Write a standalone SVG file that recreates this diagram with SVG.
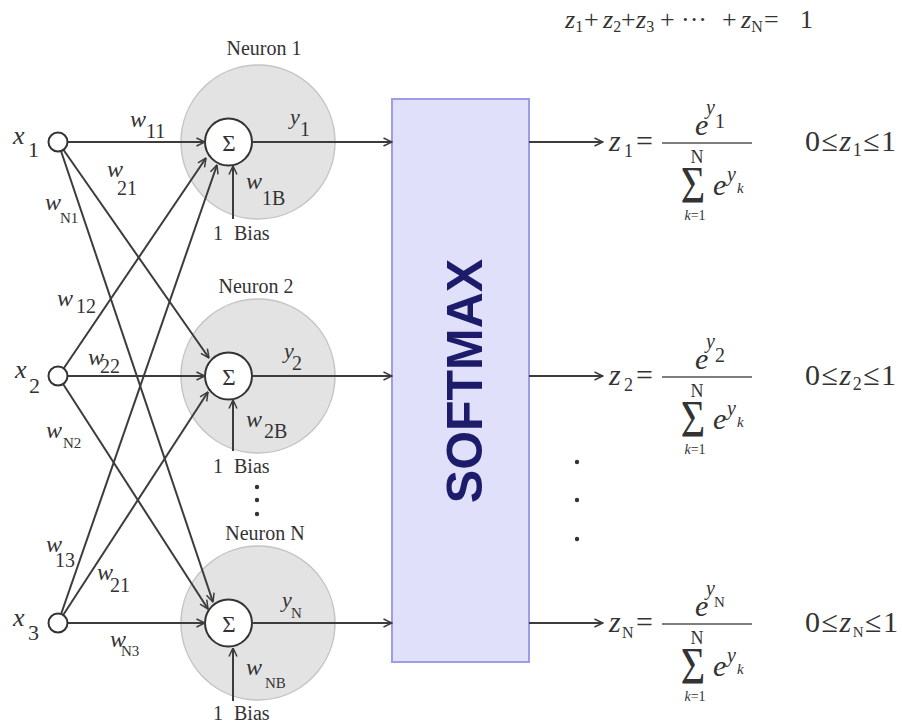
<svg xmlns="http://www.w3.org/2000/svg" width="902" height="726" viewBox="0 0 902 726">
<defs>
<style>
text{font-family:"Liberation Serif","DejaVu Serif",serif;fill:#333}
.it{font-style:italic}
.lbl{font-size:20px}
.w{font-size:24px;font-style:italic}
.s{font-size:20px}
.ss{font-size:15px}
.big{font-size:30px}
.con{stroke:#3c3c3c;stroke-width:2;fill:none;marker-end:url(#arr)}
.hal{fill:#e3e3e3;stroke:#c4c4c4;stroke-width:1.5}
.sig{fill:#fff;stroke:#333;stroke-width:2}
.frac{stroke:#555;stroke-width:1.6}
.dot{fill:#333}
</style>
<marker id="arr" viewBox="0 0 10 10" refX="9.5" refY="5" markerWidth="10" markerHeight="10" markerUnits="userSpaceOnUse" orient="auto">
<path d="M1,1 L9.5,5 L1,9" fill="none" stroke="#3c3c3c" stroke-width="1.5"/>
</marker>
</defs>
<rect width="902" height="726" fill="#fff"/>

<!-- neurons -->
<g id="neuron1">
<circle class="hal" cx="258" cy="142" r="77"/>
<circle class="sig" cx="228.5" cy="142" r="23.5"/>
<text x="229" y="151" font-size="23" text-anchor="middle">Σ</text>
<text class="lbl" x="264" y="55" text-anchor="middle">Neuron 1</text>
</g>
<g id="neuron2">
<circle class="hal" cx="258" cy="376" r="77"/>
<circle class="sig" cx="228.5" cy="376" r="23.5"/>
<text x="229" y="385" font-size="23" text-anchor="middle">Σ</text>
<text class="lbl" x="256" y="293" text-anchor="middle">Neuron 2</text>
</g>
<g id="neuronN">
<circle class="hal" cx="258" cy="623" r="77"/>
<circle class="sig" cx="228.5" cy="623" r="23.5"/>
<text x="229" y="632" font-size="23" text-anchor="middle">Σ</text>
<text class="lbl" x="265" y="540" text-anchor="middle">Neuron N</text>
</g>

<g id="softmax">
<rect x="392" y="99" width="137" height="563" fill="#e0e0fb" stroke="#9c9ce8" stroke-width="2"/>
<text transform="translate(482,381) rotate(-90)" text-anchor="middle" style="font-family:'Liberation Sans','DejaVu Sans',sans-serif;font-weight:bold;font-size:50px;fill:#1c1c6b">SOFTMAX</text>
</g>

<!-- connectors -->
<g id="connectors">
<line class="con" x1="68" y1="142" x2="205" y2="142"/>
<line class="con" x1="63.4" y1="149.8" x2="209" y2="358"/>
<line class="con" x1="61" y1="151" x2="213" y2="602"/>
<line class="con" x1="63.3" y1="369" x2="206" y2="158"/>
<line class="con" x1="68" y1="376" x2="205" y2="376"/>
<line class="con" x1="63.1" y1="384" x2="208" y2="609"/>
<line class="con" x1="61.1" y1="614" x2="217" y2="165"/>
<line class="con" x1="63.2" y1="615" x2="208" y2="392"/>
<line class="con" x1="68" y1="623" x2="205" y2="623"/>
<line class="con" x1="233" y1="219" x2="233" y2="166"/>
<line class="con" x1="233" y1="451" x2="233" y2="400"/>
<line class="con" x1="233" y1="701" x2="233" y2="648"/>
<line class="con" x1="252" y1="142" x2="392" y2="142"/>
<line class="con" x1="252" y1="376" x2="392" y2="376"/>
<line class="con" x1="252" y1="623" x2="392" y2="623"/>
<line class="con" x1="529" y1="142" x2="603" y2="142"/>
<line class="con" x1="529" y1="376" x2="603" y2="376"/>
<line class="con" x1="529" y1="623" x2="603" y2="623"/>
</g>

<!-- inputs -->
<g id="x1">
<circle class="sig" cx="58" cy="142" r="9.5"/>
<text x="13" y="144" font-size="26" class="it">x</text><text x="28" y="157" font-size="22">1</text>
</g>
<g id="x2">
<circle class="sig" cx="58" cy="376" r="9.5"/>
<text x="15" y="378" font-size="26" class="it">x</text><text x="29" y="393" font-size="22">2</text>
</g>
<g id="x3">
<circle class="sig" cx="58" cy="623" r="9.5"/>
<text x="13" y="626" font-size="26" class="it">x</text><text x="28" y="640" font-size="22">3</text>
</g>

<!-- weight labels -->
<g id="weights">
<text class="w" x="130" y="127">w</text><text class="s" x="146" y="138">11</text>
<text class="w" x="107" y="177">w</text><text class="s" x="117" y="195">21</text>
<text class="w" x="45" y="210">w</text><text class="ss" x="60" y="223">N1</text>
<text class="w" x="246" y="189">w</text><text class="s" x="262" y="205">1B</text>
<text class="lbl" x="213" y="240">1</text><text class="lbl" x="234" y="240">Bias</text>
<text class="it" font-size="22" x="290" y="124">y</text><text class="s" x="300" y="136">1</text>

<text class="w" x="57" y="306">w</text><text class="s" x="76" y="313">12</text>
<text class="w" x="88" y="365">w</text><text class="s" x="100" y="373">22</text>
<text class="w" x="46" y="438">w</text><text class="ss" x="63" y="448">N2</text>
<text class="w" x="246" y="427">w</text><text class="s" x="264" y="438">2B</text>
<text class="lbl" x="213" y="473">1</text><text class="lbl" x="234" y="473">Bias</text>
<text class="it" font-size="22" x="284" y="358">y</text><text class="s" x="292" y="370">2</text>

<text class="w" x="46" y="552">w</text><text class="s" x="55" y="567">13</text>
<text class="w" x="97" y="580">w</text><text class="s" x="110" y="592">21</text>
<text class="w" x="110" y="647">w</text><text class="ss" x="121" y="656">N3</text>
<text class="w" x="246" y="675">w</text><text class="ss" x="265" y="688">NB</text>
<text class="lbl" x="213" y="720">1</text><text class="lbl" x="234" y="720">Bias</text>
<text class="it" font-size="22" x="282" y="607">y</text><text class="ss" x="291" y="618">N</text>
</g>

<g id="dots">
<circle class="dot" cx="257" cy="487" r="2.2"/>
<circle class="dot" cx="257" cy="500" r="2.2"/>
<circle class="dot" cx="257" cy="514" r="2.2"/>
<circle class="dot" cx="577" cy="462" r="2.2"/>
<circle class="dot" cx="577" cy="500" r="2.2"/>
<circle class="dot" cx="577" cy="539" r="2.2"/>
</g>

<!-- top equation -->
<g id="sum-eq" font-size="26">
<text y="28"><tspan class="it" x="565">z</tspan><tspan font-size="16" dy="4">1</tspan><tspan dy="-4" x="584">+</tspan><tspan class="it" x="603">z</tspan><tspan font-size="16" dy="4">2</tspan><tspan dy="-4" x="621">+</tspan><tspan class="it" x="636">z</tspan><tspan font-size="16" dy="4">3</tspan><tspan dy="-4" x="660">+</tspan><tspan x="681">···</tspan><tspan x="722">+</tspan><tspan class="it" x="741">z</tspan><tspan font-size="16" dy="4">N</tspan><tspan dy="-4" x="764">=</tspan><tspan x="800">1</tspan></text>
</g>

<!-- output formulas -->
<g id="z1">
<text class="big it" x="609" y="151">z</text><text font-size="18" x="624" y="157">1</text>
<text class="big" x="636" y="151">=</text>
<line class="frac" x1="662" y1="143" x2="752" y2="143"/>
<text class="big it" x="695" y="135">e</text><text class="it" font-size="20" x="706" y="114">y</text><text font-size="20" x="715" y="128">1</text>
<text font-size="18" x="697" y="163" text-anchor="middle">N</text>
<text transform="translate(693,203) scale(1,1.28)" font-size="42" text-anchor="middle">Σ</text>
<text class="big it" x="713" y="195">e</text><text class="it" font-size="20" x="727" y="181">y</text><text class="it" font-size="15" x="737" y="193">k</text>
<text font-size="14" x="695" y="220" text-anchor="middle"><tspan class="it">k</tspan>=1</text>
<text class="big" x="805" y="151" font-size="32" letter-spacing="1.5">0≤<tspan class="it">z</tspan><tspan font-size="18" dy="5">1</tspan><tspan dy="-5">≤1</tspan></text>
</g>
<g id="z2">
<text class="big it" x="609" y="385">z</text><text font-size="18" x="624" y="391">2</text>
<text class="big" x="636" y="385">=</text>
<line class="frac" x1="662" y1="377" x2="752" y2="377"/>
<text class="big it" x="695" y="369">e</text><text class="it" font-size="20" x="706" y="348">y</text><text font-size="20" x="715" y="362">2</text>
<text font-size="18" x="697" y="397" text-anchor="middle">N</text>
<text transform="translate(693,437) scale(1,1.28)" font-size="42" text-anchor="middle">Σ</text>
<text class="big it" x="713" y="429">e</text><text class="it" font-size="20" x="727" y="415">y</text><text class="it" font-size="15" x="737" y="427">k</text>
<text font-size="14" x="695" y="454" text-anchor="middle"><tspan class="it">k</tspan>=1</text>
<text class="big" x="805" y="385" font-size="32" letter-spacing="1.5">0≤<tspan class="it">z</tspan><tspan font-size="18" dy="5">2</tspan><tspan dy="-5">≤1</tspan></text>
</g>
<g id="zN">
<text class="big it" x="609" y="632">z</text><text font-size="16" x="622" y="638">N</text>
<text class="big" x="636" y="632">=</text>
<line class="frac" x1="662" y1="624" x2="752" y2="624"/>
<text class="big it" x="695" y="616">e</text><text class="it" font-size="20" x="706" y="595">y</text><text font-size="15" x="714" y="607">N</text>
<text font-size="18" x="697" y="644" text-anchor="middle">N</text>
<text transform="translate(693,684) scale(1,1.28)" font-size="42" text-anchor="middle">Σ</text>
<text class="big it" x="713" y="676">e</text><text class="it" font-size="20" x="727" y="662">y</text><text class="it" font-size="15" x="737" y="674">k</text>
<text font-size="14" x="695" y="701" text-anchor="middle"><tspan class="it">k</tspan>=1</text>
<text class="big" x="805" y="632" font-size="32" letter-spacing="1.5">0≤<tspan class="it">z</tspan><tspan font-size="15" dy="5">N</tspan><tspan dy="-5">≤1</tspan></text>
</g>
</svg>
